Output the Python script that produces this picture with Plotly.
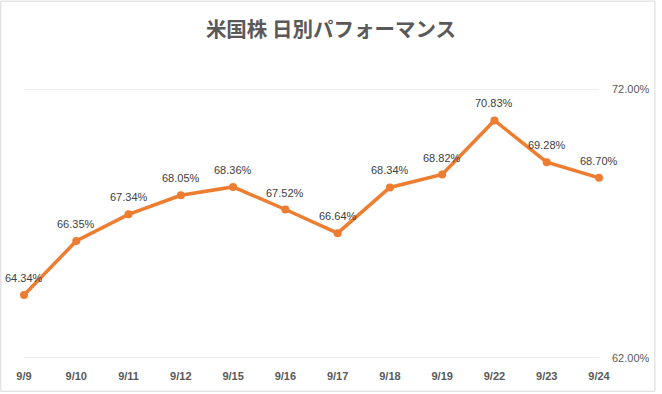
import plotly.graph_objects as go

dates = ["9/9", "9/10", "9/11", "9/12", "9/15", "9/16", "9/17", "9/18", "9/19", "9/22", "9/23", "9/24"]
values = [64.34, 66.35, 67.34, 68.05, 68.36, 67.52, 66.64, 68.34, 68.82, 70.83, 69.28, 68.70]
title_text = "米国株 日別パフォーマンス"
y_ticks = [62, 72]
y_tick_labels = ["62.00%", "72.00%"]

W, H = 662, 394
ml, mr, mt, mb = 24, 57, 89, 34
pw, ph = W - ml - mr, H - mt - mb

xs = list(range(len(dates)))

fig = go.Figure()
fig.add_trace(go.Scatter(
    x=xs, y=values,
    mode="lines+markers",
    line=dict(color="#ED7D31", width=3.5),
    marker=dict(color="#ED7D31", size=8),
    cliponaxis=False,
    hoverinfo="skip",
))

for xi, v in zip(xs, values):
    fig.add_annotation(x=xi, y=v, text=f"{v:.2f}%", showarrow=False,
                       yshift=17, xanchor="center", yanchor="middle",
                       font=dict(family="Liberation Sans, Arial, sans-serif", size=11, color="#404040"))

fig.update_layout(
    width=W, height=H,
    margin=dict(l=ml, r=mr, t=mt, b=mb),
    paper_bgcolor="white", plot_bgcolor="white",
    showlegend=False,
    title=dict(text=title_text, x=0.5, xref="container", xanchor="center",
               y=1 - 30 / H, yref="container", yanchor="middle",
               font=dict(family="Noto Sans CJK JP, sans-serif", size=20.5, color="#595959", weight="bold")),
    xaxis=dict(
        range=[0, len(dates) - 1],
        tickmode="array", tickvals=xs, ticktext=dates,
        showgrid=False, zeroline=False, showline=False, ticks="",
        tickfont=dict(family="Liberation Sans, Arial, sans-serif", size=11, color="#595959", weight="bold"),
        ticklabelstandoff=10,
    ),
    yaxis=dict(
        range=[62, 72], side="right",
        tickmode="array", tickvals=y_ticks, ticktext=y_tick_labels,
        showgrid=False, zeroline=False, showline=False, ticks="",
        tickfont=dict(family="Liberation Sans, Arial, sans-serif", size=11, color="#595959"),
        ticklabelstandoff=12,
    ),
)

for t in y_ticks:
    fig.add_shape(type="line", xref="paper", yref="y", x0=0, x1=1, y0=t, y1=t,
                  line=dict(color="#D9D9D9", width=1), layer="below")

fig.add_shape(type="rect", xref="paper", yref="paper",
              x0=(0.5 - ml) / pw, x1=(W - 0.5 - ml) / pw,
              y0=(H - mb - (H - 0.5)) / ph, y1=(H - mb - 0.5) / ph,
              line=dict(color="#D9D9D9", width=1), fillcolor="rgba(0,0,0,0)", layer="above")

fig.write_html("out.html", config={"displayModeBar": False, "staticPlot": True},
               post_script="document.body.style.margin='0';document.body.style.overflow='hidden';")
